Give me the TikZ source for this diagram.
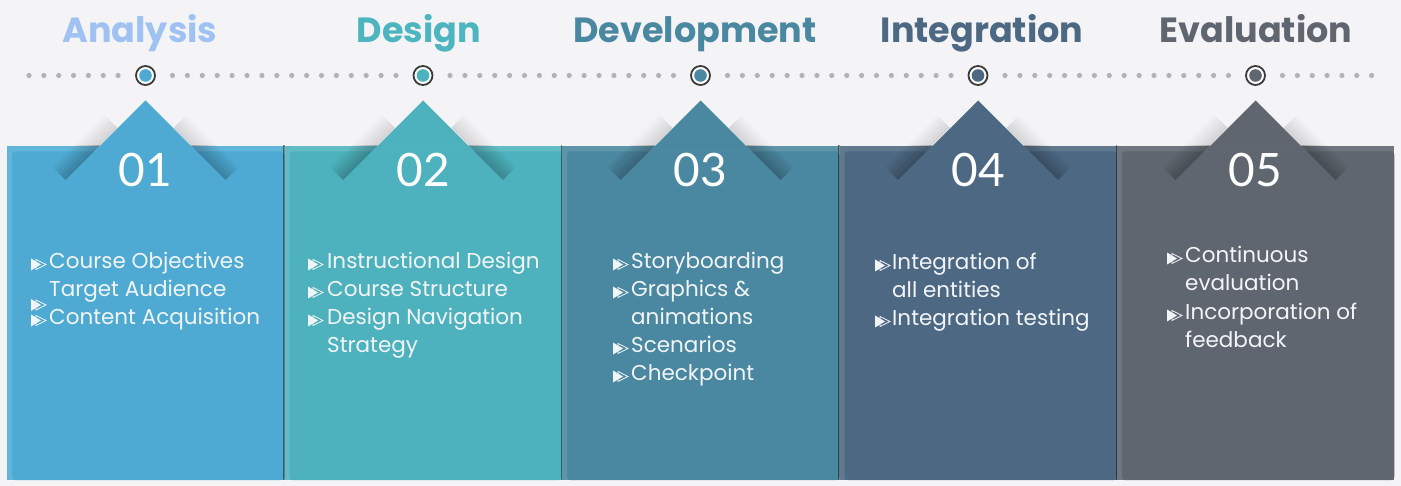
\documentclass[tikz,border=0pt]{standalone}
\usepackage{fontspec}
\setmainfont{Poppins}
\newfontfamily\numfont{Lato}
\usetikzlibrary{calc}
\definecolor{bg}{HTML}{F4F4F7}
\definecolor{pA}{HTML}{4EAAD3}\definecolor{pAl}{HTML}{62B5DA}
\definecolor{pB}{HTML}{4DB2BD}\definecolor{pBl}{HTML}{62BCC6}
\definecolor{pC}{HTML}{4A87A0}\definecolor{pCl}{HTML}{5E95AB}
\definecolor{pD}{HTML}{4D6883}\definecolor{pDl}{HTML}{60798F}
\definecolor{pE}{HTML}{5F6670}\definecolor{pEl}{HTML}{70767F}
\definecolor{tA}{HTML}{9FC2F2}
\definecolor{tB}{HTML}{4DB5BF}
\definecolor{tC}{HTML}{4A87A0}
\definecolor{tD}{HTML}{4D6883}
\definecolor{tE}{HTML}{5F6670}
\definecolor{dotc}{HTML}{B3B3B3}
\definecolor{ringc}{HTML}{3A3A3A}
\definecolor{txt}{HTML}{F2F5F8}
\tikzset{
  title/.style={anchor=base, inner sep=0pt, font=\fontsize{35}{38}\selectfont\bfseries},
  num/.style={anchor=base, inner sep=0pt, text=white, font=\numfont\fontsize{46}{50}\selectfont},
  body/.style={anchor=base west, inner sep=0pt, text=txt, font=\fontsize{21.5}{24}\selectfont},
  ring/.style={circle, draw=ringc, line width=1.8pt, fill=white, minimum size=19pt, inner sep=0pt},
  sep/.style={draw=black, draw opacity=0.45, line width=1.2pt},
}
\newcommand{\bul}[2]{%
  \fill[txt] (#1,#2-6) -- (#1,#2+6) -- (#1+10,#2) -- cycle;
  \draw[txt, line width=0.7pt, line join=miter] (#1+5,#2-5) -- (#1+5,#2+5) -- (#1+15,#2) -- cycle;}
\newcommand{\shbands}[2]{% center, opacity
  \foreach \w in {3,6,9,12,15,18}{
    \pgfmathsetmacro{\d}{\w*0.7071}
    \fill[black, opacity=#2] (#1-28,128) -- (#1-80,180) -- (#1-80-\d,180-\d) -- (#1-28-\d,128-\d) -- cycle;
    \fill[black, opacity=#2] (#1+28,128) -- (#1+80,180) -- (#1+80+\d,180-\d) -- (#1+28+\d,128-\d) -- cycle;
  }}
\begin{document}
\begin{tikzpicture}[x=1pt,y=-1pt]
\useasboundingbox (0,0) rectangle (1401,486);
\fill[bg] (0,0) rectangle (1401,486);
% panels
\foreach \i/\col/\lt in {0/pA/pAl,1/pB/pBl,2/pC/pCl,3/pD/pDl,4/pE/pEl}{
  \pgfmathsetmacro{\cx}{145.5+277.5*\i}
  \fill[\lt] (\cx-138.5,146) rectangle (\cx+138.75,480);
  \fill[\col, rounded corners=3pt] (\cx-133.5,151.5) rectangle (\cx+138.75,480);
  \begin{scope}
    \clip (\cx-140,100) rectangle (\cx+140,146);
    \shbands{\cx}{0.018}
  \end{scope}
  \begin{scope}
    \clip (\cx-140,146) rectangle (\cx+140,200);
    \shbands{\cx}{0.04}
  \end{scope}
  \fill[\col] (\cx,100.5) -- (\cx-51,151.5) -- (\cx+51,151.5) -- cycle;
}
% separators
\foreach \x in {284,561.5,839,1116.5}{ \draw[sep] (\x,145.5) -- (\x,480); }
% numbers
\node[num] (n1) at (145,187) {01};
\node[num] (n2) at (423,187) {02};
\node[num] (n3) at (700,187) {03};
\node[num] (n4) at (978,187) {04};
\node[num] (n5) at (1255,187) {05};
% titles
\node[title, text=tA] (h1) at (140,43) {Analysis};
\node[title, text=tB] (h2) at (419,43) {Design};
\node[title, text=tC] (h3) at (695,43) {Development};
\node[title, text=tD] (h4) at (982,43) {Integration};
\node[title, text=tE] (h5) at (1256,43) {Evaluation};
% timeline
\foreach \k in {0,...,6}{ \fill[dotc] (29+14.85*\k,75.5) circle (2.6pt); }
\foreach \a in {145.5,423,700.5,978}{
  \foreach \k in {0,...,15}{ \fill[dotc] (\a+27+14.9*\k,75.5) circle (2.6pt); }
}
\foreach \k in {0,...,6}{ \fill[dotc] (1282.5+14.85*\k,75.5) circle (2.6pt); }
\node[ring] (r1) at (145.5,75.5) {}; \fill[pA] (r1) circle (6.3pt);
\node[ring] (r2) at (423,75.5) {};   \fill[pB] (r2) circle (6.3pt);
\node[ring] (r3) at (700.5,75.5) {}; \fill[pC] (r3) circle (6.3pt);
\node[ring] (r4) at (978,75.5) {};   \fill[pD] (r4) circle (6.3pt);
\node[ring] (r5) at (1255.5,75.5) {};\fill[pE] (r5) circle (6.3pt);
% panel 1 text
\bul{31}{264.5}\bul{31}{305}\bul{31}{320.5}
\node[body] (a1) at (49,269) {Course Objectives};
\node[body] (a2) at (49,297) {Target Audience};
\node[body] (a3) at (49,325) {Content Acquisition};
% panel 2
\bul{308}{264.5}\bul{308}{292.5}\bul{308}{320.5}
\node[body] (b1) at (327,269) {Instructional Design};
\node[body] (b2) at (327,297) {Course Structure};
\node[body] (b3) at (327,325) {Design Navigation};
\node[body] (b4) at (327,353) {Strategy};
% panel 3
\bul{613}{264.5}\bul{613}{292.5}\bul{613}{348.5}\bul{613}{376.5}
\node[body] (c1) at (631,269) {Storyboarding};
\node[body] (c2) at (631,297) {Graphics \&};
\node[body] (c3) at (631,325) {animations};
\node[body] (c4) at (631,353) {Scenarios};
\node[body] (c5) at (631,381) {Checkpoint};
% panel 4
\bul{875}{265.5}\bul{875}{321.5}
\node[body] (d1) at (892,270) {Integration of};
\node[body] (d2) at (892,298) {all entities};
\node[body] (d3) at (892,326) {Integration testing};
% panel 5
\bul{1167}{258.5}\bul{1167}{315.5}
\node[body] (e1) at (1185,263) {Continuous};
\node[body] (e2) at (1185,291) {evaluation};
\node[body] (e3) at (1185,320) {Incorporation of};
\node[body] (e4) at (1185,348) {feedback};
\end{tikzpicture}
\end{document}
